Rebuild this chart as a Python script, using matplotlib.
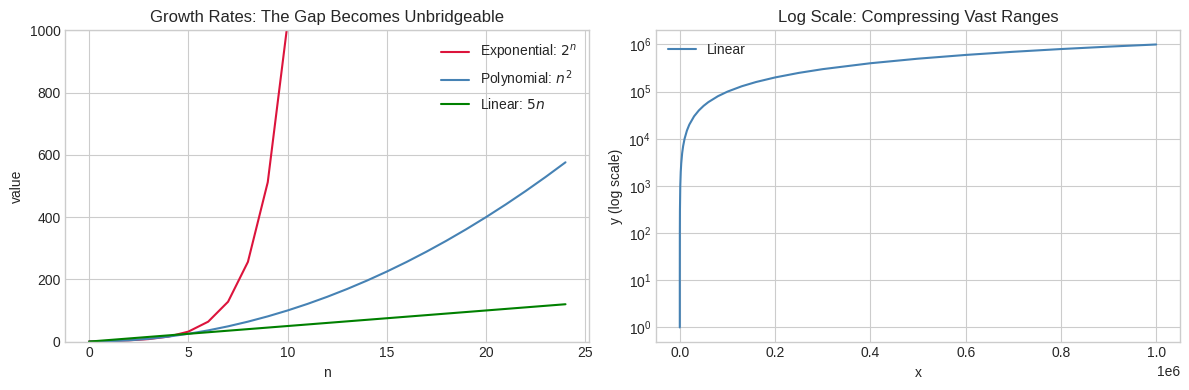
import numpy as np
import matplotlib.pyplot as plt

plt.style.use("seaborn-v0_8-whitegrid")
plt.rcParams["font.family"] = ["Liberation Sans", "DejaVu Sans"]

# left panel: values at n = 0..24
n_vals = list(range(25))
exp_vals = [1, 2, 4, 8, 16, 32, 64, 128, 256, 512, 1024, 2048, 4096, 8192,
            16384, 32768, 65536, 131072, 262144, 524288, 1048576, 2097152,
            4194304, 8388608, 16777216]
poly_vals = [0, 1, 4, 9, 16, 25, 36, 49, 64, 81, 100, 121, 144, 169, 196,
             225, 256, 289, 324, 361, 400, 441, 484, 529, 576]
lin_vals = [0, 5, 10, 15, 20, 25, 30, 35, 40, 45, 50, 55, 60, 65, 70, 75,
            80, 85, 90, 95, 100, 105, 110, 115, 120]

# right panel: points
log_x = [1, 10, 100, 300, 1000, 2000, 3000, 5000, 7000, 10000, 15000, 20000,
         30000, 40000, 50000, 60000, 80000, 100000, 130000, 160000, 200000,
         250000, 300000, 400000, 500000, 600000, 700000, 800000, 900000, 1000000]
log_y = [1, 10, 100, 300, 1000, 2000, 3000, 5000, 7000, 10000, 15000, 20000,
         30000, 40000, 50000, 60000, 80000, 100000, 130000, 160000, 200000,
         250000, 300000, 400000, 500000, 600000, 700000, 800000, 900000, 1000000]

fig, (ax1, ax2) = plt.subplots(1, 2, figsize=(12, 4), dpi=100)

ax1.plot(n_vals, exp_vals, color="crimson", label="Exponential: $2^n$")
ax1.plot(n_vals, poly_vals, color="steelblue", label="Polynomial: $n^2$")
ax1.plot(n_vals, lin_vals, color="green", label="Linear: $5n$")
ax1.set_ylim(0, 1000)
ax1.set_xlabel("n")
ax1.set_ylabel("value")
ax1.set_title("Growth Rates: The Gap Becomes Unbridgeable")
ax1.legend()

ax2.plot(log_x, log_y, color="steelblue", label="Linear")
ax2.set_yscale("log")
ax2.set_xlabel("x")
ax2.set_ylabel("y (log scale)")
ax2.set_title("Log Scale: Compressing Vast Ranges")
ax2.legend(loc="upper left")

plt.tight_layout()
plt.savefig("out.png", bbox_inches="tight")
